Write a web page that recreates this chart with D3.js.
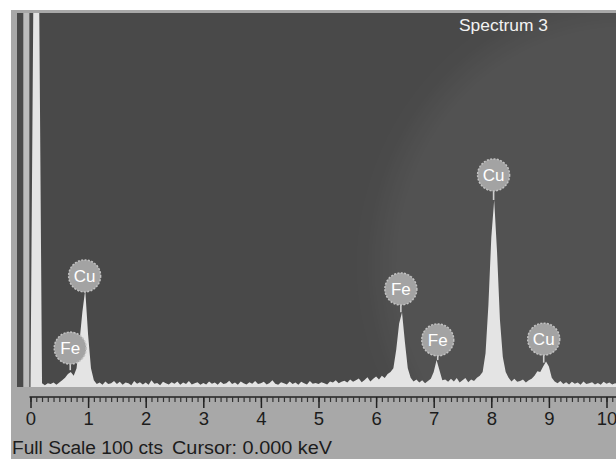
<!DOCTYPE html>
<html>
<head>
<meta charset="utf-8">
<script src="https://cdn.jsdelivr.net/npm/d3@7"></script>
<style>
  body { margin: 0; background: #fff; }
  text { font-family: "Liberation Sans", Arial, sans-serif; }
</style>
</head>
<body>
<div id="chart"></div>
<script>
// EDS spectrum, 0.05 keV per channel starting at 0 keV (counts)
const channelWidth = 0.05;
const counts = [
  0, 130, 130, 130, 1.0, 0.5, 1.0, 0.8, 1.2, 0.6,          // 0.00 - 0.45
  1.2, 1.8, 2.5, 3.5, 4.0, 3.0, 5.0, 12, 20, 26,            // 0.50 - 0.95
  14, 5.0, 1.8, 0.8, 1.2, 0.6, 1.5, 0.8, 1.0, 1.6,          // 1.00 - 1.45
  0.8, 1.4, 0.6, 1.2, 1.0, 0.5, 1.6, 0.9, 1.3, 0.7,         // 1.50 - 1.95
  1.2, 0.6, 1.8, 0.9, 1.1, 0.5, 1.4, 1.0, 0.7, 1.3,         // 2.00 - 2.45
  0.9, 1.5, 0.6, 1.2, 0.8, 1.6, 0.7, 1.0, 1.3, 0.6,         // 2.50 - 2.95
  1.1, 0.7, 1.5, 0.9, 1.2, 0.6, 1.4, 0.8, 1.0, 1.7,         // 3.00 - 3.45
  0.8, 1.2, 0.6, 1.5, 1.0, 0.7, 1.3, 0.9, 1.6, 0.8,         // 3.50 - 3.95
  1.0, 1.4, 0.7, 1.1, 1.8, 0.9, 0.6, 1.3, 1.0, 0.7,         // 4.00 - 4.45
  1.5, 0.8, 1.2, 0.6, 1.4, 1.0, 0.7, 1.6, 0.9, 1.1,         // 4.50 - 4.95
  0.8, 1.3, 1.0, 0.7, 1.5, 1.2, 1.8, 1.0, 1.4, 1.7,         // 5.00 - 5.45
  1.2, 2.0, 1.4, 1.8, 2.3, 1.3, 1.9, 2.6, 1.5, 2.2,         // 5.50 - 5.95
  2.8, 2.0, 3.0, 2.4, 3.5, 4.0, 5.0, 10, 17, 20,            // 6.00 - 6.45
  12, 5.0, 2.5, 1.5, 2.0, 1.2, 1.8, 1.0, 1.6, 2.2,          // 6.50 - 6.95
  4.0, 7.2, 4.5, 1.8, 2.0, 1.4, 2.2, 1.5, 2.4, 1.2,         // 7.00 - 7.45
  1.8, 2.4, 1.3, 2.0, 1.6, 2.5, 3.0, 4.0, 9.0, 22,          // 7.50 - 7.95
  40, 50, 36, 18, 8.0, 4.0, 2.5, 1.5, 2.2, 1.4,             // 8.00 - 8.45
  1.6, 2.0, 1.2, 1.8, 2.2, 3.0, 4.2, 4.0, 5.5, 6.8,         // 8.50 - 8.95
  5.5, 2.5, 1.5, 1.0, 1.6, 0.8, 1.3, 0.7, 1.4, 0.9,         // 9.00 - 9.45
  1.2, 0.6, 1.5, 0.8, 1.0, 1.3, 0.7, 1.1, 0.6, 1.4,         // 9.50 - 9.95
  0.9, 1.2, 0.7, 1.0, 0.8                                   // 10.00 - 10.20
];

// Peak identification labels
const peakElements = ["Fe", "Cu", "Fe", "Fe", "Cu", "Cu"];
const peakEnergies = [0.69, 0.94, 6.43, 7.07, 8.04, 8.91];
const labelCounts = [10.4, 29.7, 26.2, 12.6, 56.7, 12.8];
const stemEndCounts = [4.5, 26, 20, 7.2, 50, 6.5];

const majorTicks = [0, 1, 2, 3, 4, 5, 6, 7, 8, 9, 10];
const minorTicks = d3.range(0, 102).map((i) => i / 10);

const spectrumTitle = "Spectrum 3";
const fullScale = 100;
const cursorKeV = 0;

const width = 616, height = 459;
const panel = { left: 11, top: 10 };
const plot = { left: 17, top: 13, right: 616, bottom: 387 };
const rulerY = 397;

const svg = d3.select("#chart").append("svg")
  .attr("width", width).attr("height", height);

const defs = svg.append("defs");
defs.append("clipPath").attr("id", "plot-clip")
  .append("rect")
  .attr("x", plot.left).attr("y", plot.top)
  .attr("width", plot.right - plot.left).attr("height", plot.bottom - plot.top);
defs.append("filter").attr("id", "soft")
  .attr("x", "-50%").attr("y", "-50%").attr("width", "200%").attr("height", "200%")
  .append("feGaussianBlur").attr("stdDeviation", 14);

// grey window panel
svg.append("rect")
  .attr("x", panel.left).attr("y", panel.top)
  .attr("width", width - panel.left).attr("height", height - panel.top)
  .attr("fill", "#a8a8a8");

// dark plot area
svg.append("rect")
  .attr("x", plot.left).attr("y", plot.top)
  .attr("width", plot.right - plot.left).attr("height", plot.bottom - plot.top)
  .attr("fill", "#494949");

const g = svg.append("g").attr("clip-path", "url(#plot-clip)");

// faint watermark halo on the right
g.append("ellipse")
  .attr("cx", 625).attr("cy", 265).attr("rx", 245).attr("ry", 255)
  .attr("fill", "#ffffff").attr("fill-opacity", 0.05)
  .attr("filter", "url(#soft)");

const x = d3.scaleLinear().domain([0, 10]).range([30.5, 606.5]);
const y = d3.scaleLinear().domain([0, fullScale]).range([plot.bottom, plot.top]);

// strobe marker stripe left of zero
g.append("rect")
  .attr("x", x(-0.125)).attr("y", plot.top)
  .attr("width", x(-0.02) - x(-0.125)).attr("height", plot.bottom - plot.top)
  .attr("fill", "#bcbcbc");

const spectrum = counts.map((c, i) => ({ e: i * channelWidth, c }));

const area = d3.area()
  .x((d) => x(d.e))
  .y0(y(0) + 1)
  .y1((d) => y(Math.min(d.c, fullScale + 5)));

g.append("path")
  .datum(spectrum)
  .attr("d", area)
  .attr("fill", "#e4e4e4");

// peak labels
const labels = g.selectAll(".peak-label")
  .data(peakElements.map((el, i) => ({
    el, e: peakEnergies[i], lc: labelCounts[i], sc: stemEndCounts[i]
  })))
  .enter().append("g")
  .attr("class", "peak-label")
  .attr("transform", (d) => `translate(${x(d.e)},${y(d.lc)})`);

const r = 16;
labels.append("line")
  .attr("x1", 0).attr("x2", 0)
  .attr("y1", r).attr("y2", (d) => y(d.sc) - y(d.lc))
  .attr("stroke", "#cfcfcf").attr("stroke-width", 1.6);

labels.append("circle")
  .attr("r", r)
  .attr("fill", "#a3a3a3")
  .attr("stroke", "#c2c2c2").attr("stroke-width", 1.5)
  .attr("stroke-dasharray", "2,1.4");

labels.append("text")
  .attr("text-anchor", "middle").attr("dy", "0.36em")
  .attr("fill", "#ffffff").attr("font-size", 17)
  .text((d) => d.el);

// title
svg.append("text")
  .attr("x", 459).attr("y", 31)
  .attr("fill", "#f2f2f2").attr("font-size", 17)
  .attr("textLength", 89).attr("lengthAdjust", "spacingAndGlyphs")
  .text(spectrumTitle);

// energy ruler
svg.append("line")
  .attr("x1", x(0) - 1).attr("x2", width)
  .attr("y1", rulerY).attr("y2", rulerY)
  .attr("stroke", "#222").attr("stroke-width", 1.5);

const minorAxis = svg.append("g")
  .attr("transform", `translate(0,${rulerY})`)
  .call(d3.axisBottom(x).tickValues(minorTicks).tickSize(5).tickFormat(""));
minorAxis.select(".domain").remove();
minorAxis.selectAll("line").attr("stroke", "#333").attr("stroke-width", 1.2);

const majorAxis = svg.append("g")
  .attr("transform", `translate(0,${rulerY})`)
  .call(d3.axisBottom(x).tickValues(majorTicks).tickSize(11).tickPadding(4)
    .tickFormat(d3.format("d")));
majorAxis.select(".domain").remove();
majorAxis.selectAll("line").attr("stroke", "#222").attr("stroke-width", 1.5);
majorAxis.selectAll("text")
  .attr("font-family", "Liberation Sans, Arial, sans-serif")
  .attr("font-size", 18.5).attr("fill", "#1c1c1c");

// status line
svg.append("text")
  .attr("x", 12).attr("y", 454)
  .attr("font-size", 18).attr("fill", "#1c1c1c")
  .attr("textLength", 151).attr("lengthAdjust", "spacingAndGlyphs")
  .text(`Full Scale ${fullScale} cts`);
svg.append("text")
  .attr("x", 172).attr("y", 454)
  .attr("font-size", 18).attr("fill", "#1c1c1c")
  .attr("textLength", 160).attr("lengthAdjust", "spacingAndGlyphs")
  .text(`Cursor: ${cursorKeV.toFixed(3)} keV`);
</script>
</body>
</html>
